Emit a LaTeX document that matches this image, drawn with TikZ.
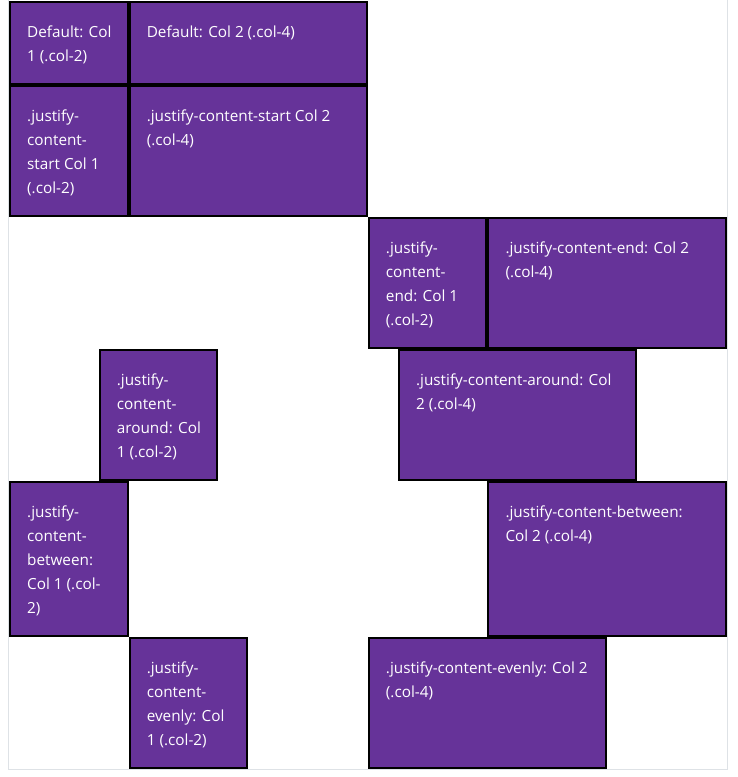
\documentclass[tikz,border=0pt]{standalone}
\usepackage{fontspec}
\setmainfont{Open Sans}
\usetikzlibrary{positioning}
\definecolor{rebecca}{HTML}{663399}
\definecolor{framegray}{HTML}{DEE2E6}

\begin{document}
\begin{tikzpicture}[x=1pt,y=-1pt,
  colbox/.style={draw=black,line width=2pt,fill=rebecca,rectangle,inner sep=0pt,anchor=north west},
  coltext/.style={text=white,inner sep=0pt,anchor=north west,align=left,
    font=\fontsize{15.3}{24}\selectfont}]
  \useasboundingbox (0,0) rectangle (738,777);
  \draw[framegray,line width=1pt] (8.5,-0.5) rectangle (727,769);
  % default
  \node[colbox,minimum width=117.6pt,minimum height=82pt] (defa) at (9,0.5) {};
  \node[colbox,minimum width=237.2pt,minimum height=82pt] (defb) at (128.6,0.5) {};
  \node[coltext] (defa-t) at ([shift={(18,19.8)}]defa.north west) {\strut Default: Col\\1 (.col-2)};
  \node[coltext] (defb-t) at ([shift={(18,19.8)}]defb.north west) {\strut Default: Col 2 (.col-4)};
  % start
  \node[colbox,minimum width=117.6pt,minimum height=130pt] (starta) at (9,84.5) {};
  \node[colbox,minimum width=237.2pt,minimum height=130pt] (startb) at (128.6,84.5) {};
  \node[coltext] (starta-t) at ([shift={(18,19.8)}]starta.north west) {\strut .justify-\\content-\\start Col 1\\(.col-2)};
  \node[coltext] (startb-t) at ([shift={(18,19.8)}]startb.north west) {\strut .justify-content-start Col 2\\(.col-4)};
  % end
  \node[colbox,minimum width=117.6pt,minimum height=130pt] (enda) at (367.75,216.5) {};
  \node[colbox,minimum width=237.2pt,minimum height=130pt] (endb) at (487.3,216.5) {};
  \node[coltext] (enda-t) at ([shift={(18,19.8)}]enda.north west) {\strut .justify-\\content-\\end: Col 1\\(.col-2)};
  \node[coltext] (endb-t) at ([shift={(18,19.8)}]endb.north west) {\strut .justify-content-end: Col 2\\(.col-4)};
  % around
  \node[colbox,minimum width=117.6pt,minimum height=130pt] (arounda) at (98.7,348.5) {};
  \node[colbox,minimum width=237.2pt,minimum height=130pt] (aroundb) at (397.9,348.5) {};
  \node[coltext] (arounda-t) at ([shift={(18,19.8)}]arounda.north west) {\strut .justify-\\content-\\around: Col\\1 (.col-2)};
  \node[coltext] (aroundb-t) at ([shift={(18,19.8)}]aroundb.north west) {\strut .justify-content-around: Col\\2 (.col-4)};
  % between
  \node[colbox,minimum width=117.6pt,minimum height=154pt] (betweena) at (9,480.5) {};
  \node[colbox,minimum width=237.2pt,minimum height=154pt] (betweenb) at (487.3,480.5) {};
  \node[coltext] (betweena-t) at ([shift={(18,19.8)}]betweena.north west) {\strut .justify-\\content-\\between:\\Col 1 (.col-\\2)};
  \node[coltext] (betweenb-t) at ([shift={(18,19.8)}]betweenb.north west) {\strut .justify-content-between:\\Col 2 (.col-4)};
  % evenly
  \node[colbox,minimum width=117.6pt,minimum height=130pt] (evenlya) at (128.6,636.5) {};
  \node[colbox,minimum width=237.2pt,minimum height=130pt] (evenlyb) at (367.75,636.5) {};
  \node[coltext] (evenlya-t) at ([shift={(18,19.8)}]evenlya.north west) {\strut .justify-\\content-\\evenly: Col\\1 (.col-2)};
  \node[coltext] (evenlyb-t) at ([shift={(18,19.8)}]evenlyb.north west) {\strut .justify-content-evenly: Col 2\\(.col-4)};
\end{tikzpicture}
\end{document}
